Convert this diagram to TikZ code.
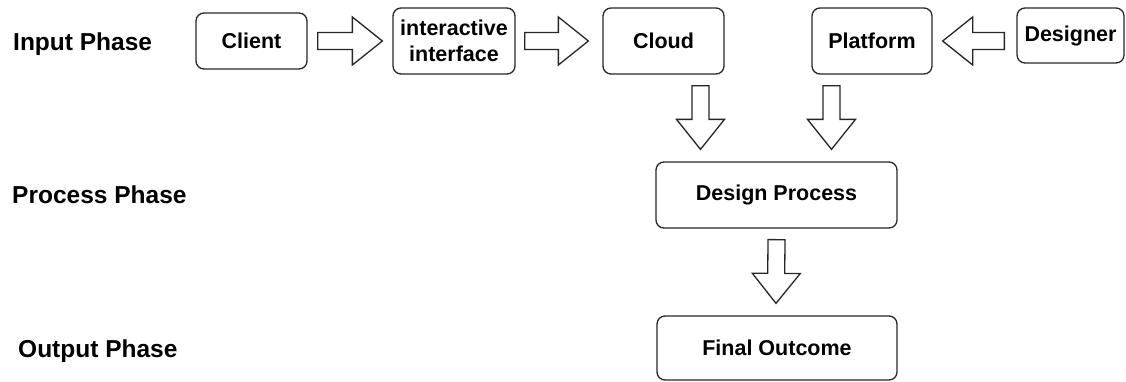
\documentclass[tikz,border=0pt]{standalone}
\usepackage{fontspec}
\setmainfont{Liberation Sans}
\usetikzlibrary{calc}
\tikzset{
  box/.style={draw=black!85, line width=1.3pt, rounded corners=8pt, rectangle, inner sep=0pt,
    font=\bfseries\fontsize{21.5}{26}\selectfont, align=center},
  phase/.style={anchor=base west, inner sep=0pt, font=\bfseries\fontsize{24.5}{28}\selectfont},
  blockarrowstyle/.style={draw=black!85, line width=1.3pt, line join=miter, fill=white},
}
\newcommand\shaftw{8.5pt}
\newcommand\headw{24pt}
\newcommand\headlen{30pt}
\newcommand\blockarr[2]{%
  \path #1 coordinate (ba-s) #2 coordinate (ba-t);
  \coordinate (ba-b) at ($(ba-t)!\headlen!(ba-s)$);
  \draw[blockarrowstyle]
    ($(ba-s)!\shaftw!90:(ba-t)$) -- ($(ba-b)!\shaftw!90:(ba-t)$) --
    ($(ba-b)!\headw!90:(ba-t)$) -- (ba-t) --
    ($(ba-b)!\headw!-90:(ba-t)$) -- ($(ba-b)!\shaftw!-90:(ba-t)$) --
    ($(ba-s)!\shaftw!-90:(ba-t)$) -- cycle;
}
\begin{document}
\begin{tikzpicture}[x=1pt,y=-1pt]
\useasboundingbox (0,0) rectangle (1126,381);
% phase labels
\node[phase] (lin) at (13,50) {Input Phase};
\node[phase] (lpr) at (12,203) {Process Phase};
\node[phase] (lout) at (18,357) {Output Phase};
% boxes
\node[box, minimum width=111pt, minimum height=56pt] (client) at (251.5,41) {Client};
\node[box, minimum width=122pt, minimum height=66pt] (ii) at (454,41) {interactive\\interface};
\node[box, minimum width=121pt, minimum height=66pt] (cloud) at (663.5,41) {Cloud};
\node[box, minimum width=120pt, minimum height=66pt] (platform) at (872,41) {Platform};
\node[box, minimum width=107pt, minimum height=55pt] (designer) at (1070.5,35.5) {Designer};
\node[box, minimum width=241pt, minimum height=66pt] (dp) at (776.5,195) {Design Process};
\node[box, minimum width=240pt, minimum height=64pt] (fo) at (777,348) {Final Outcome};
% block arrows
\blockarr{($(client.east)+(10,0)$)}{($(ii.west)+(-10,0)$)}
\blockarr{($(ii.east)+(9,0)$)}{($(cloud.west)+(-14,0)$)}
\blockarr{($(designer.west |- platform.east)+(-12,0)$)}{($(platform.east)+(10,0)$)}
\blockarr{($(cloud.south)+(37,11)$)}{($(dp.north)+(-76,-12)$)}
\blockarr{($(platform.south)+(-40.5,11)$)}{($(dp.north)+(55,-12)$)}
\blockarr{($(dp.south)+(0,11)$)}{($(fo.north)+(-1,-12)$)}
\end{tikzpicture}
\end{document}
